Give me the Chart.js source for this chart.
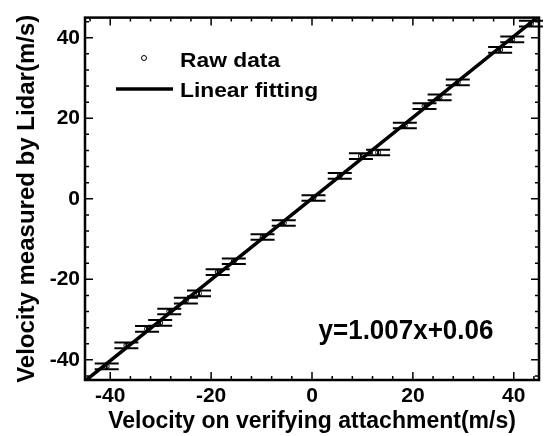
<!DOCTYPE html>
<html>
<head>
<meta charset="utf-8">
<title>Lidar velocity vs verifying attachment</title>
<script src="https://cdn.jsdelivr.net/npm/chart.js@4/dist/chart.umd.min.js"></script>
<style>
  html, body { margin: 0; padding: 0; background: #fff; }
  #wrap { width: 544px; height: 436px; }
</style>
</head>
<body>
<div id="wrap"><canvas id="chart" width="544" height="436"></canvas></div>
<script>
// velocity on the verifying attachment (x) and measured by lidar (y), m/s
const attachVel = [-40.7, -36.8, -32.7, -30.1, -28.3, -25.0, -22.4, -18.7, -15.5, -9.8, -5.6,
                   0.3, 5.5, 9.7, 13.1, 18.4, 22.3, 25.3, 28.9, 37.3, 39.7, 43.4];
const lidarVel  = [-41.6, -36.4, -32.3, -30.8, -28.0, -25.3, -23.5, -18.2, -15.5, -9.5, -6.0,
                   0.2, 5.7, 10.6, 11.5, 18.2, 23.0, 25.2, 28.9, 37.0, 39.6, 43.5];
const lidarErr  = [0.7, 0.7, 0.7, 0.7, 0.7, 0.7, 0.7, 0.7, 0.7, 0.7, 0.7,
                   0.7, 0.7, 0.7, 0.7, 0.7, 0.7, 0.7, 0.7, 0.7, 0.7, 0.7];

// fitted line y = 1.007x + 0.06, end points at the axis limits
const fitX = [-45, 45];
const fitY = [-45.26, 45.38];
const fitLabel = 'y=1.007x+0.06';

const axisMin = -45;
const axisMax = 45;
const tickValues = [-40, -20, 0, 20, 40];
const minorStep = 4;

const FAMILY = '"Liberation Sans", Arial, sans-serif';
const font = size => ({ family: FAMILY, size, weight: 'bold' });

const rawPoints = attachVel.map((x, i) => ({ x, y: lidarVel[i] }));
const fitPoints = fitX.map((x, i) => ({ x, y: fitY[i] }));

// text drawn a bit wider than the font, like the original figure
function stretchedText(ctx, text, x, y, size, sx, sy) {
    ctx.save();
    ctx.translate(x, y);
    ctx.scale(sx, sy);
    ctx.font = `bold ${size}px ${FAMILY}`;
    ctx.fillText(text, 0, 0);
    ctx.restore();
}

// vertical error bars with wide caps
const errorBars = {
    id: 'errorBars',
    afterDatasetsDraw(chart) {
        const { ctx, scales: { x, y } } = chart;
        const capHalf = 12;
        ctx.save();
        ctx.strokeStyle = '#000';
        ctx.lineWidth = 2;
        rawPoints.forEach((p, i) => {
            const px = x.getPixelForValue(p.x);
            const top = y.getPixelForValue(p.y + lidarErr[i]);
            const bot = y.getPixelForValue(p.y - lidarErr[i]);
            ctx.beginPath();
            ctx.moveTo(px - capHalf, top); ctx.lineTo(px + capHalf, top);
            ctx.moveTo(px - capHalf, bot); ctx.lineTo(px + capHalf, bot);
            ctx.moveTo(px, top); ctx.lineTo(px, bot);
            ctx.stroke();
        });
        ctx.restore();
    }
};

// box frame with inward ticks on all four sides, legend and fit equation
const frame = {
    id: 'frame',
    afterDraw(chart) {
        const { ctx, chartArea: a, scales: { x, y } } = chart;
        ctx.save();
        ctx.strokeStyle = '#000';
        ctx.lineWidth = 2.5;
        ctx.strokeRect(a.left, a.top, a.right - a.left, a.bottom - a.top);

        ctx.lineWidth = 1.5;
        ctx.beginPath();
        for (let v = Math.ceil(axisMin / minorStep) * minorStep; v <= axisMax; v += minorStep) {
            const len = v % 20 === 0 ? 8 : 4;
            const px = x.getPixelForValue(v);
            ctx.moveTo(px, a.bottom); ctx.lineTo(px, a.bottom - len);
            ctx.moveTo(px, a.top); ctx.lineTo(px, a.top + len);
            const py = y.getPixelForValue(v);
            ctx.moveTo(a.left, py); ctx.lineTo(a.left + len, py);
            ctx.moveTo(a.right, py); ctx.lineTo(a.right - len, py);
        }
        ctx.stroke();

        // legend
        ctx.fillStyle = '#000';
        ctx.textBaseline = 'middle';
        ctx.textAlign = 'left';
        ctx.lineWidth = 1;
        ctx.beginPath();
        ctx.arc(144, 58, 2.5, 0, Math.PI * 2);
        ctx.stroke();
        stretchedText(ctx, chart.data.datasets[0].label, 180, 61, 20, 1.14, 1);
        ctx.lineWidth = 3.5;
        ctx.beginPath();
        ctx.moveTo(116, 89); ctx.lineTo(173, 89);
        ctx.stroke();
        stretchedText(ctx, chart.data.datasets[1].label, 180, 91, 20, 1.14, 1);

        ctx.textAlign = 'center';
        stretchedText(ctx, fitLabel, 406, 331, 26, 1, 1.06);
        ctx.restore();
    }
};

const scaleOpts = (titleText, titleSize, titlePad) => ({
    type: 'linear',
    min: axisMin,
    max: axisMax,
    grid: { display: false, drawTicks: false },
    border: { display: false },
    afterBuildTicks: s => { s.ticks = tickValues.map(v => ({ value: v })); },
    ticks: { color: '#000', font: font(21), autoSkip: false, maxRotation: 0, padding: 5 },
    title: { display: true, text: titleText, color: '#000', font: font(titleSize), padding: titlePad }
});

const xOpts = scaleOpts('Velocity on verifying attachment(m/s)', 23, { top: 0, bottom: 1 });
xOpts.ticks.padding = 4;
xOpts.afterFit = s => { s.height = 56; };

const yOpts = scaleOpts('Velocity measured by Lidar(m/s)', 24, { top: 13, bottom: 0 });
yOpts.afterFit = s => { s.width = 85; };

new Chart(document.getElementById('chart'), {
    type: 'scatter',
    data: {
        datasets: [
            {
                label: 'Raw data',
                data: rawPoints,
                pointStyle: 'circle',
                pointRadius: 2.5,
                pointBorderWidth: 1,
                pointBorderColor: '#000',
                pointBackgroundColor: '#fff',
                order: 1
            },
            {
                label: 'Linear fitting',
                type: 'line',
                data: fitPoints,
                borderColor: '#000',
                borderWidth: 3.5,
                pointRadius: 0,
                fill: false,
                order: 0
            }
        ]
    },
    options: {
        responsive: false,
        animation: false,
        layout: { padding: { top: 15, right: 2, left: 0, bottom: 0 } },
        plugins: { legend: { display: false }, tooltip: { enabled: false } },
        scales: { x: xOpts, y: yOpts }
    },
    plugins: [errorBars, frame]
});
</script>
</body>
</html>
